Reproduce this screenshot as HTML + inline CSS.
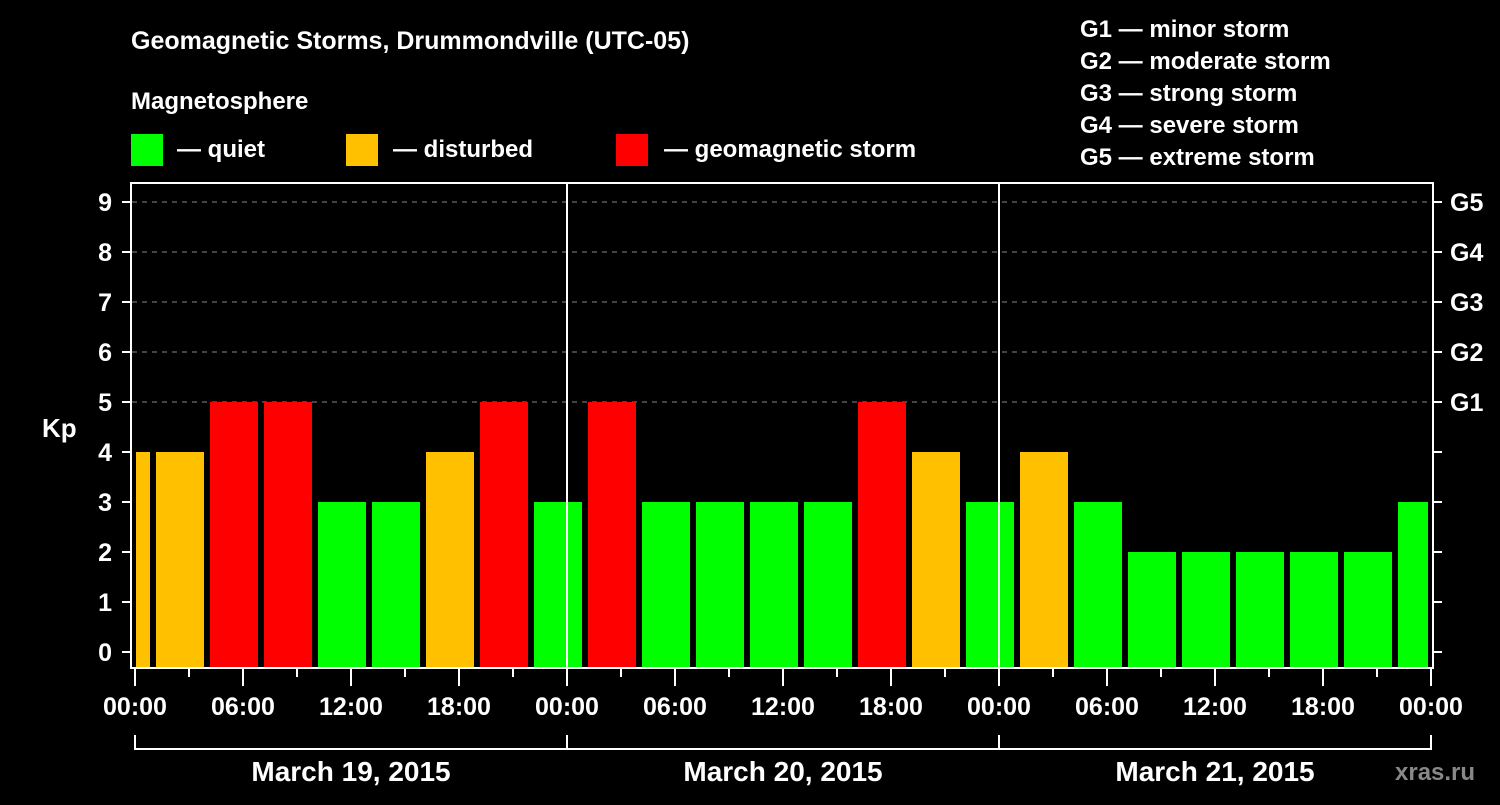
<!DOCTYPE html>
<html><head><meta charset="utf-8"><style>
html,body{margin:0;padding:0;background:#000;}
svg text{font-family:"Liberation Sans",Arial,sans-serif;font-weight:bold;fill:#fff;}
</style></head><body>
<svg id="chart" width="1500" height="800" viewBox="0 0 1500 800" xmlns="http://www.w3.org/2000/svg">
<rect width="1500" height="800" fill="#000"/>
<text x="131" y="49" font-size="25">Geomagnetic Storms, Drummondville (UTC-05)</text>
<text x="131" y="109" font-size="24">Magnetosphere</text>
<g><rect x="131" y="134" width="32" height="32" fill="#00ff00"/><text x="177" y="157" font-size="24">— quiet</text></g>
<g><rect x="346" y="134" width="32" height="32" fill="#ffc000"/><text x="393" y="157" font-size="24">— disturbed</text></g>
<g><rect x="616" y="134" width="32" height="32" fill="#ff0000"/><text x="664" y="157" font-size="24">— geomagnetic storm</text></g>
<g font-size="24">
<text x="1080" y="37">G1 — minor storm</text>
<text x="1080" y="69">G2 — moderate storm</text>
<text x="1080" y="101">G3 — strong storm</text>
<text x="1080" y="133">G4 — severe storm</text>
<text x="1080" y="165">G5 — extreme storm</text>
</g>
<text x="42" y="437" font-size="26">Kp</text>
<text x="1395" y="780" font-size="24" style="fill:#888">xras.ru</text>
<g id="grid"></g><g id="bars"></g><g id="axes"></g>
</svg>
<script>
const kpValues=[4,4,5,5,3,3,4,5,3,5,3,3,3,3,5,4,3,4,3,2,2,2,2,2,3];
const firstBarStartHour=-2;
const barHours=3;
const yTicks=[0,1,2,3,4,5,6,7,8,9];
const gLabels=["G1","G2","G3","G4","G5"];
const xTickLabels=["00:00","06:00","12:00","18:00","00:00","06:00","12:00","18:00","00:00","06:00","12:00","18:00","00:00"];
const dayLabels=["March 19, 2015","March 20, 2015","March 21, 2015"];
const NS="http://www.w3.org/2000/svg";
const x0=135,pxPerHour=18,totalHours=72;
const X=h=>x0+h*pxPerHour;
const Y=v=>652-50*v;
function mk(tag,attrs,parent,text){const e=document.createElementNS(NS,tag);for(const k in attrs)e.setAttribute(k,attrs[k]);if(text!==undefined)e.textContent=text;parent.appendChild(e);return e;}
const grid=document.getElementById('grid'),bars=document.getElementById('bars'),axes=document.getElementById('axes');
function color(v){return v>=5?'#ff0000':(v>=4?'#ffc000':'#00ff00');}
// grid
yTicks.filter(v=>v>=5).forEach(v=>{const l=mk('line',{x1:132,x2:1432,y1:Y(v),y2:Y(v),stroke:'#888','stroke-width':1,'stroke-dasharray':'5,5'},grid);

});
// bars
kpValues.forEach((v,i)=>{let s=firstBarStartHour+i*barHours,e=s+barHours;
let xa=Math.max(X(s)+3,X(0)+1),xb=Math.min(X(e)-3,X(totalHours)-3);
const r=mk('rect',{x:xa,y:Y(v),width:xb-xa,height:667-Y(v),fill:color(v)},bars);

});
// frame
const fr=mk('rect',{x:131,y:183,width:1302,height:485,fill:'none',stroke:'#fff','stroke-width':2},axes);


[1,2].forEach(d=>{const l=mk('line',{x1:X(24*d),x2:X(24*d),y1:183,y2:668,stroke:'#fff','stroke-width':2},axes);

});
// y ticks
yTicks.forEach(v=>{mk('line',{x1:122,x2:131,y1:Y(v),y2:Y(v),stroke:'#fff','stroke-width':2},axes);
mk('line',{x1:1433,x2:1442,y1:Y(v),y2:Y(v),stroke:'#fff','stroke-width':2},axes);
const t=mk('text',{x:112,y:Y(v)+9,'font-size':25,'text-anchor':'end'},axes,String(v));

});
gLabels.forEach((g,i)=>{const t=mk('text',{x:1450,y:Y(5+i)+9,'font-size':25},axes,g);

});
// x ticks
for(let h=0;h<=totalHours;h+=3){const major=h%6===0;mk('line',{x1:X(h),x2:X(h),y1:669,y2:major?686:677,stroke:'#fff','stroke-width':2},axes);}
xTickLabels.forEach((s,i)=>{const t=mk('text',{x:X(i*6),y:715,'font-size':25,'text-anchor':'middle'},axes,s);

});
// day brackets
dayLabels.forEach((s,d)=>{const a=X(24*d),b=X(24*(d+1));
mk('path',{d:`M${a},735V749H${b}V735`,fill:'none',stroke:'#fff','stroke-width':2},axes);
const t=mk('text',{x:(a+b)/2,y:781,'font-size':28,'text-anchor':'middle'},axes,s);

});
</script>
</body></html>
